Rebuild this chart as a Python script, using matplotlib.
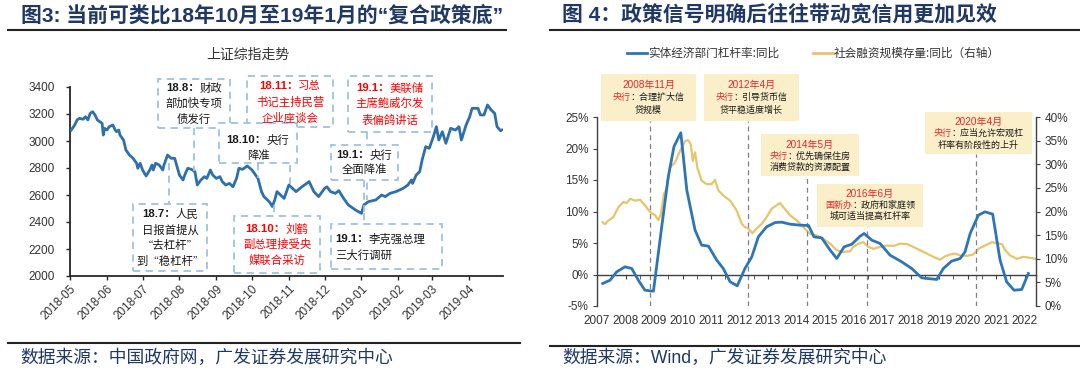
import matplotlib
matplotlib.use('Agg')
import matplotlib.pyplot as plt
import matplotlib.dates as mdates
from matplotlib.patches import Rectangle
from matplotlib.lines import Line2D
import pandas as pd

CJK = ['Noto Sans CJK SC', 'DejaVu Sans']
LAT = ['Liberation Sans', 'Noto Sans CJK SC', 'DejaVu Sans']
plt.rcParams['font.family'] = LAT

# ---------------- data: left panel (上证综指) ----------------
sh_dates = ["2018-05-02", "2018-05-03", "2018-05-05", "2018-05-07", "2018-05-09", "2018-05-12",
            "2018-05-14", "2018-05-16", "2018-05-18", "2018-05-20", "2018-05-22", "2018-05-24",
            "2018-05-26", "2018-05-28", "2018-05-29", "2018-05-30", "2018-06-01", "2018-06-03",
            "2018-06-06", "2018-06-08", "2018-06-09", "2018-06-11", "2018-06-12", "2018-06-15",
            "2018-06-17", "2018-06-20", "2018-06-23", "2018-06-26", "2018-06-27", "2018-06-29",
            "2018-07-01", "2018-07-04", "2018-07-07", "2018-07-09", "2018-07-10", "2018-07-12",
            "2018-07-15", "2018-07-18", "2018-07-19", "2018-07-22", "2018-07-25", "2018-07-28",
            "2018-07-30", "2018-08-01", "2018-08-04", "2018-08-06", "2018-08-08", "2018-08-11",
            "2018-08-14", "2018-08-16", "2018-08-19", "2018-08-22", "2018-08-24", "2018-08-27",
            "2018-08-29", "2018-09-01", "2018-09-04", "2018-09-06", "2018-09-09", "2018-09-12",
            "2018-09-15", "2018-09-18", "2018-09-20", "2018-09-23", "2018-09-27", "2018-10-01",
            "2018-10-03", "2018-10-06", "2018-10-09", "2018-10-11", "2018-10-14", "2018-10-16",
            "2018-10-18", "2018-10-20", "2018-10-22", "2018-10-25", "2018-10-28", "2018-11-01",
            "2018-11-07", "2018-11-12", "2018-11-18", "2018-11-22", "2018-11-26", "2018-12-01",
            "2018-12-03", "2018-12-06", "2018-12-10", "2018-12-13", "2018-12-17", "2018-12-21",
            "2018-12-27", "2019-01-01", "2019-01-03", "2019-01-07", "2019-01-13", "2019-01-18",
            "2019-01-21", "2019-01-25", "2019-01-30", "2019-02-05", "2019-02-09", "2019-02-12",
            "2019-02-13", "2019-02-16", "2019-02-19", "2019-02-21", "2019-02-24", "2019-02-27",
            "2019-03-02", "2019-03-05", "2019-03-07", "2019-03-10", "2019-03-13", "2019-03-17",
            "2019-03-21", "2019-03-24", "2019-03-26", "2019-03-30", "2019-04-02", "2019-04-04",
            "2019-04-09", "2019-04-11", "2019-04-14", "2019-04-17", "2019-04-20", "2019-04-23",
            "2019-04-25", "2019-04-28", "2019-04-29"]
sh_values = [3081, 3094, 3119, 3156, 3168, 3161,
             3180, 3156, 3205, 3217, 3193, 3156,
             3143, 3131, 3044, 3094, 3081, 3106,
             3119, 3081, 3069, 3081, 3044, 3007,
             2933, 2896, 2872, 2835, 2798, 2835,
             2785, 2741, 2785, 2822, 2785, 2835,
             2822, 2785, 2822, 2896, 2872, 2872,
             2810, 2748, 2711, 2760, 2798, 2790,
             2773, 2674, 2711, 2736, 2723, 2785,
             2748, 2723, 2736, 2699, 2674, 2686,
             2661, 2723, 2798, 2790, 2815, 2785,
             2760, 2723, 2625, 2588, 2563, 2545,
             2515, 2560, 2625, 2600, 2575, 2674,
             2625, 2661, 2699, 2625, 2588, 2649,
             2661, 2625, 2612, 2632, 2575, 2526,
             2489, 2464, 2526, 2551, 2563, 2600,
             2588, 2612, 2625, 2649, 2674, 2711,
             2686, 2748, 2773, 2859, 2958, 2946,
             3020, 3106, 3007, 3069, 2983, 3094,
             3081, 3106, 3007, 3119, 3180, 3242,
             3242, 3193, 3193, 3267, 3230, 3205,
             3106, 3076, 3081]
sh_yticks = [2000, 2200, 2400, 2600, 2800, 3000, 3200, 3400]

# ---------------- data: right panel ----------------
lev_t = [2007.20, 2007.46, 2007.69, 2007.98, 2008.22, 2008.45, 2008.68, 2008.98, 2009.27, 2009.50,
         2009.70, 2009.94, 2010.15, 2010.44, 2010.67, 2010.91, 2011.20, 2011.43, 2011.67, 2011.92,
         2012.19, 2012.43, 2012.66, 2012.95, 2013.25, 2013.48, 2013.77, 2014.12, 2014.42, 2014.61,
         2014.88, 2015.18, 2015.41, 2015.67, 2015.94, 2016.23, 2016.37, 2016.64, 2016.93, 2017.28,
         2017.69, 2018.04, 2018.39, 2018.92, 2019.15, 2019.44, 2019.74, 2019.91, 2020.09, 2020.38,
         2020.61, 2020.88, 2021.14, 2021.37, 2021.63, 2021.90, 2022.13]
lev_v = [-1.43, -0.90, 0.42, 1.22, 0.95, -0.90, -2.49, -2.65, 7.57, 15.5,
         20.3, 22.5, 13.4, 7.04, 4.66, 4.50, 2.28, 0.95, -1.16, -1.80,
         0.95, 2.80, 5.98, 7.57, 8.25, 8.31, 7.99, 7.83, 7.78, 5.98,
         5.82, 3.86, 2.54, 4.39, 4.81, 6.08, 6.51, 5.45, 4.92, 3.07,
         2.01, 0.95, -0.53, -0.79, 0.95, 2.12, 2.54, 3.60, 6.51, 9.42,
         9.95, 9.58, 2.28, -1.16, -2.49, -2.38, 0.16]

tsf_t = [2007.20, 2007.28, 2007.40, 2007.57, 2007.75, 2007.92, 2008.04, 2008.16, 2008.33, 2008.51,
         2008.68, 2008.86, 2009.04, 2009.15, 2009.23, 2009.35, 2009.44, 2009.56, 2009.74, 2009.91,
         2010.09, 2010.20, 2010.29, 2010.36, 2010.44, 2010.52, 2010.67, 2010.85, 2011.02, 2011.14,
         2011.26, 2011.43, 2011.67, 2011.90, 2012.08, 2012.19, 2012.31, 2012.45, 2012.60, 2012.78,
         2012.95, 2013.13, 2013.30, 2013.42, 2013.54, 2013.77, 2014.01, 2014.24, 2014.47, 2014.71,
         2014.94, 2015.18, 2015.41, 2015.64, 2015.88, 2015.99, 2016.17, 2016.35, 2016.52, 2016.70,
         2016.93, 2017.16, 2017.40, 2017.63, 2017.87, 2018.10, 2018.33, 2018.57, 2018.80, 2019.04,
         2019.21, 2019.39, 2019.56, 2019.74, 2019.97, 2020.20, 2020.38, 2020.61, 2020.85, 2021.02,
         2021.20, 2021.32, 2021.49, 2021.73, 2021.96, 2022.19, 2022.37]
tsf_v = [17.75, 17.3, 18.1, 18.8, 20.9, 22.0, 21.8, 22.7, 22.3, 22.5,
         21.3, 19.9, 19.2, 18.2, 19.2, 23.7, 24.8, 29.3, 30.4, 32.8,
         34.9, 35.1, 34.2, 30.7, 32.5, 29.3, 26.5, 25.8, 25.8, 26.7,
         24.4, 23.4, 22.3, 20.2, 17.4, 16.7, 16.4, 15.4, 16.4, 17.4,
         18.8, 20.6, 21.3, 21.8, 20.9, 19.2, 18.1, 16.7, 15.3, 14.9,
         14.2, 13.2, 11.8, 11.4, 11.6, 12.5, 13.2, 13.5, 12.5, 12.1,
         12.5, 12.8, 12.7, 13.2, 13.1, 12.5, 11.8, 11.1, 10.4, 9.8,
         10.5, 10.9, 11.1, 10.7, 10.6, 10.9, 12.1, 12.8, 13.5, 13.3,
         13.1, 11.8, 10.7, 10.0, 10.4, 10.2, 10.0]

event_years = [2008, 2012, 2014, 2016, 2020]
event_months = [11, 4, 5, 6, 4]
years = list(range(2007, 2023))

# ---------------- figure ----------------
W, H = 1080, 381
fig = plt.figure(figsize=(W / 100, H / 100), dpi=100)
renderer = fig.canvas.get_renderer()


def fx(px):
    return px / W


def fy(py):
    return 1 - py / H


def hline(x0, x1, y, color='#222222', lw=1.5):
    fig.add_artist(Line2D([fx(x0), fx(x1)], [fy(y), fy(y)], transform=fig.transFigure,
                          color=color, lw=lw, zorder=3))


def vline(x, y0, y1, color, ls, lw):
    fig.add_artist(Line2D([fx(x), fx(x)], [fy(y0), fy(y1)], transform=fig.transFigure,
                          color=color, linestyle=ls, lw=lw, zorder=3))


def box(x0, y0, x1, y1, fc, ec='none', ls='-', lw=1.0):
    fig.add_artist(Rectangle((fx(x0), fy(y1)), fx(x1) - fx(x0), fy(y0) - fy(y1),
                             transform=fig.transFigure, facecolor=fc, edgecolor=ec,
                             linestyle=ls, lw=lw, zorder=4))


def rich(x, y, parts, size, ha='center'):
    objs = []
    for s, c, w, fam in parts:
        t = fig.text(0, fy(y), s, color=c, fontsize=size, fontweight=w, family=fam,
                     va='center', ha='left', zorder=5)
        objs.append(t)
    widths = [t.get_window_extent(renderer).width for t in objs]
    x0 = x - sum(widths) / 2 if ha == 'center' else x
    for t, wd in zip(objs, widths):
        t.set_x(fx(x0))
        x0 += wd


NAVY = '#1F3864'
TXT = '#333333'

# ---------------- titles / frame lines ----------------
fig.text(fx(21), fy(15), "图3: 当前可类比18年10月至19年1月的“复合政策底”", fontsize=15,
         fontweight='bold', color=NAVY, va='center', ha='left', family=LAT)
fig.text(fx(562), fy(15), "图 4：政策信号明确后往往带动宽信用更加见效", fontsize=15,
         fontweight='bold', color=NAVY, va='center', ha='left', family=LAT)
hline(8, 506, 30)
hline(550, 1080, 30)
hline(8, 520, 343)
hline(550, 1080, 346)
fig.text(fx(20), fy(358), "数据来源：中国政府网，广发证券发展研究中心", fontsize=12.8,
         color=NAVY, va='center', ha='left', family=LAT)
fig.text(fx(562), fy(358), "数据来源：Wind，广发证券发展研究中心", fontsize=12.8,
         color=NAVY, va='center', ha='left', family=LAT)

# ---------------- left axes ----------------
axL = fig.add_axes([fx(70), 1 - 276 / H, (503 - 70) / W, (276 - 87) / H])
axL.plot(pd.to_datetime(sh_dates), sh_values, color='#2E6FAD', lw=2.0, zorder=3)
axL.set_ylim(2000, 3400)
axL.set_yticks(sh_yticks)
axL.set_xlim(pd.Timestamp("2018-05-01"), pd.Timestamp("2019-04-30"))
axL.xaxis.set_major_formatter(mdates.DateFormatter('%Y-%m'))
axL.xaxis.set_ticks(list(pd.date_range("2018-05-01", "2019-04-01", freq='MS')))
for s in ['top', 'right']:
    axL.spines[s].set_visible(False)
for s in ['left', 'bottom']:
    axL.spines[s].set_color('#262626')
    axL.spines[s].set_linewidth(1.3)
axL.tick_params(axis='y', direction='out', length=3, width=1, pad=8, labelsize=8.5,
                labelcolor=TXT, color='#262626')
axL.tick_params(axis='x', direction='out', length=3, width=1, pad=2, labelsize=8.5,
                labelcolor=TXT, color='#262626')
for lab in axL.get_xticklabels():
    lab.set_rotation(45)
    lab.set_ha('right')
    lab.set_va('top')
    lab.set_rotation_mode('anchor')
axL.patch.set_alpha(0)
fig.text(fx(248), fy(55), "上证综指走势", fontsize=10, color=TXT, va='center', ha='center',
         family=CJK)

# connectors (left)
LB = '#9DC3E6'
DASH = (0, (4, 3))
for x, y0, y1 in [(194, 128, 171), (169, 163, 204), (290, 127, 184), (258, 163, 178),
                  (274, 205, 216), (364, 180, 212), (367, 132, 200), (364, 213, 224)]:
    vline(x, y0, y1, LB, DASH, 1.3)

RED = '#FF0000'
BLK = '#1a1a1a'
left_boxes = [
    ((158, 79, 230, 128), BLK, 'center', [(88, '18.8：', '财政'), (103.5, '', '部加快专项'), (119, '', '债发行')]),
    ((133, 204, 207, 271), BLK, 'center', [(214, '18.7：', '人民'), (230, '', '日报首提从'),
                                          (246, '', '“去杠杆”'), (261.5, '', '到“稳杠杆”')]),
    ((247, 76, 333, 127), RED, 'center', [(86, '18.11：', '习总'), (102, '', '书记主持民营'), (118, '', '企业座谈会')]),
    ((219, 123, 297, 163), BLK, 'center', [(140, '18.10：', '央行'), (156, '', '降准')]),
    ((234, 216, 320, 273), RED, 'center', [(229, '18.10：', '刘鹤'), (244.5, '', '副总理接受央'), (260, '', '媒联合采访')]),
    ((331, 145, 398, 180), BLK, 'center', [(155, '19.1：', '央行'), (170, '', '全面降准')]),
    ((348, 76, 432, 132), RED, 'center', [(88, '19.1：', '美联储'), (103.5, '', '主席鲍威尔发'), (120, '', '表偏鸽讲话')]),
    ((331, 224, 442, 269), BLK, 'left', [(239, '19.1：', '李克强总理'), (255, '', '三大行调研')]),
]
for (x0, y0, x1, y1), col, ha, lines in left_boxes:
    box(x0, y0, x1, y1, 'white', LB, DASH, 1.3)
    xc = (x0 + x1) / 2 if ha == 'center' else x0 + 4
    for y, pre, rest in lines:
        parts = []
        if pre:
            parts.append((pre, col, 'bold', LAT))
        parts.append((rest, col, 'normal', CJK))
        rich(xc, y, parts, 8.2, ha=ha)

# ---------------- right axes ----------------
axR = fig.add_axes([fx(597), 1 - 306 / H, (1036 - 597) / W, (306 - 117) / H])
axR2 = axR.twinx()
axR.set_zorder(axR2.get_zorder() + 1)
axR.patch.set_visible(False)

BLUE = '#2E75B6'
YEL = '#E6C56A'
axR2.plot(tsf_t, tsf_v, color=YEL, lw=1.6)
axR.plot(lev_t, lev_v, color=BLUE, lw=2.0, zorder=4)
axR.set_xlim(2007.0, 2022.4)
axR.set_ylim(-5, 25)
axR2.set_ylim(0, 40)
axR.set_yticks(range(-5, 26, 5))
axR.set_yticklabels([f"{v}%" for v in range(-5, 26, 5)])
axR2.set_yticks(range(0, 41, 5))
axR2.set_yticklabels([f"{v}%" for v in range(0, 41, 5)])
axR.set_xticks(years)
axR.set_xticklabels([str(y) for y in years])
axR.set_xticks([y + 0.5 for y in years[:-1]], minor=True)
axR.spines['bottom'].set_position(('data', 0))
for a in (axR, axR2):
    a.spines['top'].set_visible(False)
    for s in ['left', 'right', 'bottom']:
        a.spines[s].set_color('#404040')
        a.spines[s].set_linewidth(1.0)
axR.spines['right'].set_visible(False)
axR2.spines['left'].set_visible(False)
axR2.spines['bottom'].set_visible(False)
axR.tick_params(axis='y', direction='out', length=3, pad=3, labelsize=8.5, labelcolor=TXT, color='#404040')
axR2.tick_params(axis='y', direction='out', length=3, pad=3, labelsize=8.5, labelcolor=TXT, color='#404040')
axR.tick_params(axis='x', which='major', direction='out', length=3, pad=26, labelsize=8.5,
                labelcolor=TXT, color='#404040')
axR.tick_params(axis='x', which='minor', direction='out', length=3, color='#404040')

box_bottoms = [121, 121, 176, 227, 154]
for yr, mo, yb in zip(event_years, event_months, box_bottoms):
    xv = yr + (mo - 0.5) / 12
    axR.axvline(xv, ymin=0, ymax=(306 - yb) / 189, color='#808080', lw=0.9,
                linestyle=(0, (4, 3)), zorder=1)

# legend
fig.add_artist(Line2D([fx(627), fx(647)], [fy(53), fy(53)], transform=fig.transFigure, color=BLUE, lw=2))
fig.text(fx(648), fy(53), "实体经济部门杠杆率:同比", fontsize=8.4, color=TXT, va='center', ha='left', family=CJK)
fig.add_artist(Line2D([fx(813), fx(833)], [fy(53), fy(53)], transform=fig.transFigure, color=YEL, lw=2))
fig.text(fx(834), fy(53), "社会融资规模存量:同比（右轴）", fontsize=8.4, color=TXT, va='center', ha='left', family=CJK)

# annotation boxes (right)
RRED = '#E8262B'
FILL = '#FBEFC9'
right_boxes = [
    ((601, 74, 696, 121), [(85, "2008年11月"), (97.5, ("央行", "：合理扩大信")), (110, "贷规模")]),
    ((704, 74, 799, 121), [(85, "2012年4月"), (97.5, ("央行", "：引导货币信")), (110, "贷平稳适度增长")]),
    ((761, 134, 859, 176), [(145, "2014年5月"), (156, ("央行", "：优先确保住房")), (167, "消费贷款的资源配置")]),
    ((817, 184, 923, 227), [(193.5, "2016年6月"), (205, ("国新办", "：政府和家庭领")), (216.5, "城可适当提高杠杆率")]),
    ((925, 112, 1032, 154), [(122, "2020年4月"), (133.5, ("央行", "：应当允许宏观杠")), (145, "杆率有阶段性的上升")]),
]
for (x0, y0, x1, y1), lines in right_boxes:
    box(x0, y0, x1, y1, FILL)
    xc = (x0 + x1) / 2
    (ya, date_s), (yb, (org, txt)), (yc, last) = lines
    rich(xc, ya, [(date_s, RRED, 'normal', LAT)], 7.2)
    rich(xc, yb, [(org, RRED, 'normal', CJK), (txt, BLK, 'normal', CJK)], 6.5)
    rich(xc, yc, [(last, BLK, 'normal', CJK)], 6.5)

fig.savefig('out.png', dpi=100)
